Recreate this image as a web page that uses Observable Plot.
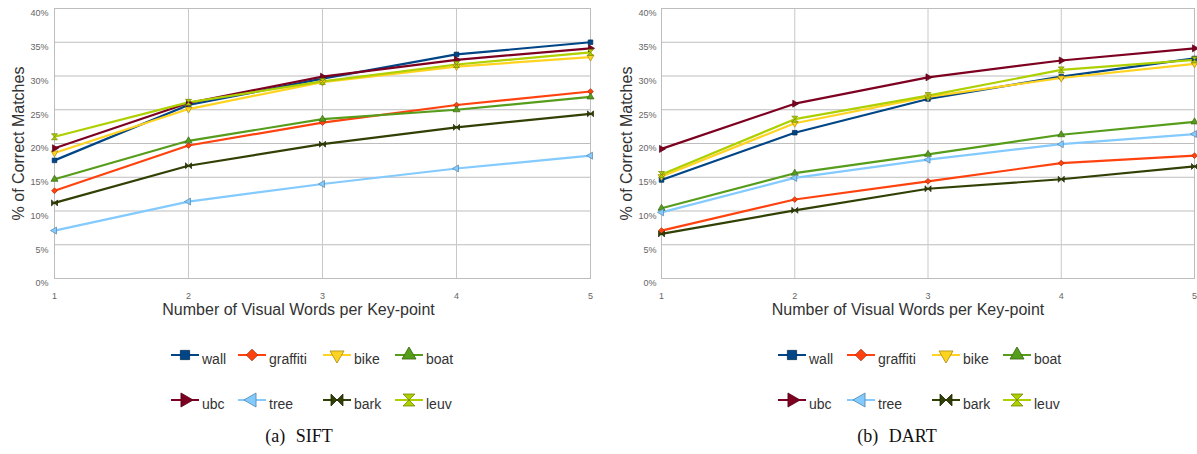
<!DOCTYPE html>
<html><head><meta charset="utf-8">
<script src="https://cdn.jsdelivr.net/npm/d3@7"></script>
<script src="https://cdn.jsdelivr.net/npm/@observablehq/plot@0.6"></script>
<style>
body{margin:0;background:#fff;}
#root{position:relative;width:1197px;height:454px;overflow:hidden;font-family:"Liberation Sans",Arial,sans-serif;}
.panel{position:absolute;top:0;}
.leg{position:absolute;display:flex;align-items:center;height:16px;font-size:14px;color:#333;white-space:nowrap;}
.leg span{position:relative;top:4px;margin-left:3px;}
.cap{position:absolute;top:426px;width:598px;text-align:center;font-family:"Liberation Serif",serif;font-size:18px;color:#111;word-spacing:6px;}
</style></head><body><div id="root"></div>
<script>
// ---- data ----
const xs = [1, 2, 3, 4, 5];
const seriesNames = ["wall", "graffiti", "bike", "boat", "ubc", "tree", "bark", "leuv"];
const seriesColors = ["#004586", "#ff420e", "#ffd320", "#579d1c", "#7e0021", "#83caff", "#314004", "#aecf00"];
const yTicks = [0, 5, 10, 15, 20, 25, 30, 35, 40];
const xLabel = "Number of Visual Words per Key-point";
const yLabel = "% of Correct Matches";
const captions = ["(a) SIFT", "(b) DART"];

// SIFT (% correct matches)
const siftWall     = [17.5, 25.7, 29.6, 33.2, 35.0];
const siftGraffiti = [13.0, 19.7, 23.1, 25.7, 27.7];
const siftBike     = [18.6, 25.1, 29.1, 31.4, 32.8];
const siftBoat     = [14.7, 20.4, 23.6, 25.0, 26.9];
const siftUbc      = [19.3, 26.0, 29.9, 32.4, 34.1];
const siftTree     = [7.1, 11.4, 14.0, 16.3, 18.2];
const siftBark     = [11.2, 16.7, 19.9, 22.4, 24.4];
const siftLeuv     = [21.0, 26.1, 29.2, 31.7, 33.5];

// DART (% correct matches)
const dartWall     = [14.6, 21.6, 26.6, 29.9, 32.6];
const dartGraffiti = [7.1, 11.7, 14.4, 17.1, 18.2];
const dartBike     = [15.1, 23.0, 26.9, 29.7, 31.8];
const dartBoat     = [10.4, 15.6, 18.4, 21.3, 23.2];
const dartUbc      = [19.2, 25.9, 29.8, 32.3, 34.1];
const dartTree     = [9.8, 14.9, 17.6, 19.9, 21.4];
const dartBark     = [6.6, 10.1, 13.3, 14.7, 16.6];
const dartLeuv     = [15.4, 23.6, 27.1, 30.9, 32.4];

const siftSeries = [siftWall, siftGraffiti, siftBike, siftBoat, siftUbc, siftTree, siftBark, siftLeuv];
const dartSeries = [dartWall, dartGraffiti, dartBike, dartBoat, dartUbc, dartTree, dartBark, dartLeuv];

// ---- symbols ----
const bowtie = {draw(ctx, size) {
  const r = Math.sqrt(size / Math.PI) * 1.15;
  ctx.moveTo(-r, -r); ctx.lineTo(0, 0); ctx.lineTo(-r, r); ctx.closePath();
  ctx.moveTo(r, -r); ctx.lineTo(0, 0); ctx.lineTo(r, r); ctx.closePath();
}};
const symbolTypes = [d3.symbolSquare, d3.symbolDiamond2, d3.symbolTriangle, d3.symbolTriangle,
                     d3.symbolTriangle, d3.symbolTriangle, bowtie, bowtie];
const symbolRot = [0, 0, 180, 0, 90, -90, 0, 90];

function toRows(series) {
  const rows = [];
  series.forEach((vals, i) => vals.forEach((v, j) => rows.push({series: seriesNames[i], x: xs[j], y: v})));
  return rows;
}

function panel(series, cfg) {
  const rows = toRows(series);
  const marks = [
    Plot.gridY(yTicks, {stroke: "#bdbdbd", strokeOpacity: 1}),
    Plot.gridX(xs, {stroke: "#c8c8c8", strokeOpacity: 1}),
    Plot.frame({stroke: "#bdbdbd"}),
    Plot.axisY(yTicks, {tickSize: 0, tickPadding: cfg.tickPadY, tickFormat: d => d + "%", dy: 5,
      fontSize: 9, fill: "#666", label: null}),
    Plot.axisX(xs, {tickSize: 0, tickPadding: 14, tickFormat: d3.format("d"), fontSize: 9, fill: "#666", label: null}),
    Plot.text([yLabel], {text: d => d, frameAnchor: "left", textAnchor: "middle", rotate: -90, dx: cfg.yTitleDx,
      fontSize: 16, fill: "#333"}),
    Plot.text([xLabel], {text: d => d, frameAnchor: "bottom", textAnchor: "middle", dy: 36, dx: cfg.xTitleDx,
      fontSize: 16, fill: "#333"})
  ];
  seriesNames.forEach((name, i) => {
    const data = rows.filter(r => r.series === name);
    marks.push(Plot.line(data, {x: "x", y: "y", stroke: seriesColors[i], strokeWidth: 2.2}));
  });
  seriesNames.forEach((name, i) => {
    const data = rows.filter(r => r.series === name);
    marks.push(Plot.dot(data, {x: "x", y: "y", symbol: symbolTypes[i], rotate: symbolRot[i], r: 2.6,
      fill: seriesColors[i], stroke: d3.color(seriesColors[i]).darker(1.2).formatHex(), strokeWidth: 0.7}));
  });
  return Plot.plot({
    width: cfg.width, height: 325,
    marginLeft: cfg.ml, marginRight: cfg.mr, marginTop: 8, marginBottom: 47,
    style: {fontFamily: "'Liberation Sans', Arial, sans-serif", background: "transparent", overflow: "visible"},
    x: {domain: [1, 5]},
    y: {domain: [0, 40]},
    marks
  });
}

const root = document.getElementById("root");
const cfgs = [
  {left: 0, width: 598, ml: 54, mr: 8, tickPadY: 6, yTitleDx: -36, xTitleDx: -24, cols: [171, 238, 323, 395]},
  {left: 598, width: 599, ml: 63, mr: 3, tickPadY: 5, yTitleDx: -35, xTitleDx: -20, cols: [180, 249, 334, 405]}
];
[siftSeries, dartSeries].forEach((series, p) => {
  const cfg = cfgs[p];
  const div = document.createElement("div");
  div.className = "panel";
  div.style.left = cfg.left + "px";
  div.appendChild(panel(series, cfg));
  root.appendChild(div);

  seriesNames.forEach((name, i) => {
    const row = i < 4 ? 0 : 1, col = i % 4;
    const item = document.createElement("div");
    item.className = "leg";
    item.style.left = (cfg.left + cfg.cols[col]) + "px";
    item.style.top = (row === 0 ? 347 : 392) + "px";
    const svg = d3.create("svg").attr("width", 28).attr("height", 16);
    svg.append("line").attr("x1", 0).attr("x2", 28).attr("y1", 8).attr("y2", 8)
      .attr("stroke", seriesColors[i]).attr("stroke-width", 2);
    svg.append("path").attr("d", d3.symbol(symbolTypes[i], 85)())
      .attr("transform", `translate(14,8) rotate(${symbolRot[i]})`)
      .attr("fill", seriesColors[i]).attr("stroke", d3.color(seriesColors[i]).darker(1.2).formatHex())
      .attr("stroke-width", 0.8);
    item.appendChild(svg.node());
    const span = document.createElement("span");
    span.textContent = name;
    item.appendChild(span);
    root.appendChild(item);
  });

  const cap = document.createElement("div");
  cap.className = "cap";
  cap.style.left = cfg.left + "px";
  cap.textContent = captions[p];
  root.appendChild(cap);
});
</script></body></html>
